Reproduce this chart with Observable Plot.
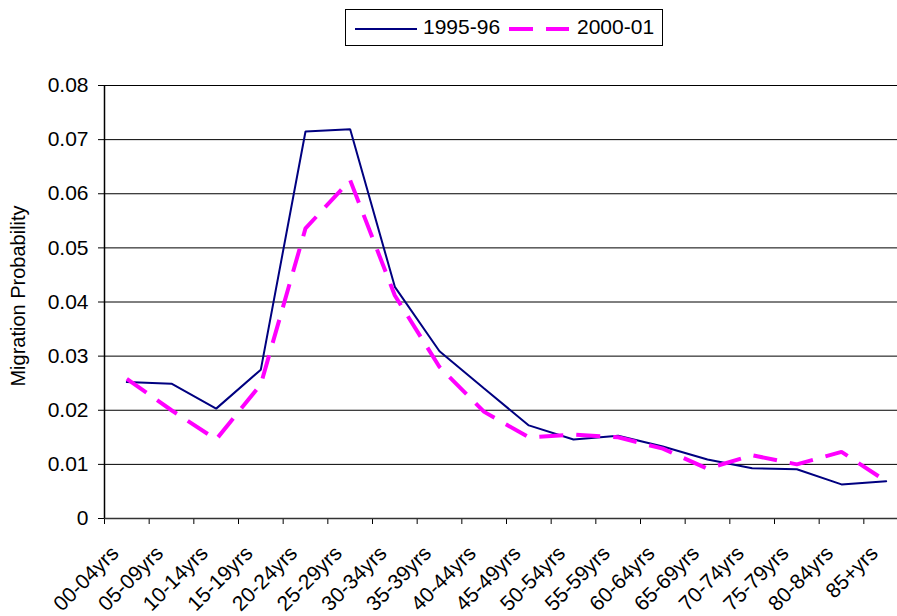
<!DOCTYPE html>
<html>
<head>
<meta charset="utf-8">
<script src="https://cdn.jsdelivr.net/npm/d3@7"></script>
<script src="https://cdn.jsdelivr.net/npm/@observablehq/plot@0.6"></script>
<style>
  html, body { margin: 0; padding: 0; background: white; overflow: hidden; }
  body { width: 897px; height: 616px; position: relative; font-family: "Liberation Sans", Arial, sans-serif; }
  #chart { position: absolute; left: 0; top: 0; width: 897px; height: 616px; overflow: hidden; }
  #legend { position: absolute; left: 345px; top: 9px; width: 316px; height: 35px; border: 1px solid #000; background: white; }
  #legend svg { display: block; }
</style>
</head>
<body>
<div id="chart"></div>
<div id="legend"></div>
<script>
const ageGroups = ["00-04yrs","05-09yrs","10-14yrs","15-19yrs","20-24yrs","25-29yrs","30-34yrs","35-39yrs","40-44yrs","45-49yrs","50-54yrs","55-59yrs","60-64yrs","65-69yrs","70-74yrs","75-79yrs","80-84yrs","85+yrs"];
const prob1995 = [0.0252, 0.0249, 0.0203, 0.0275, 0.0715, 0.0719, 0.0428, 0.0309, 0.0240, 0.0172, 0.0146, 0.0153, 0.0133, 0.0109, 0.0093, 0.0091, 0.0063, 0.0069];
const prob2000 = [0.0258, 0.0200, 0.0146, 0.0248, 0.0536, 0.0625, 0.0412, 0.0280, 0.0197, 0.0150, 0.0155, 0.0150, 0.0129, 0.0092, 0.0117, 0.0100, 0.0123, 0.0069];
const seriesNames = ["1995-96", "2000-01"];
const yTicks = [0, 0.01, 0.02, 0.03, 0.04, 0.05, 0.06, 0.07, 0.08];
const yLabel = "Migration Probability";

const rows1995 = ageGroups.map((g, i) => ({age: g, i: i + 0.5, v: prob1995[i]}));
const rows2000 = ageGroups.map((g, i) => ({age: g, i: i + 0.5, v: prob2000[i]}));
const labelRows = ageGroups.map((g, i) => ({age: g, i: i + 0.5, z: 0}));

const chart = Plot.plot({
  width: 897,
  height: 616,
  marginLeft: 104,
  marginTop: 85,
  marginBottom: 98,
  marginRight: 0,
  style: {fontFamily: "'Liberation Sans', Arial, sans-serif", fontSize: "21px", background: "white", color: "black", overflow: "hidden"},
  x: {domain: [0, 18], range: [104, 908], ticks: d3.range(18), tickFormat: () => "", tickSize: 6, label: null},
  y: {domain: [0, 0.08], ticks: yTicks, tickFormat: d => d === 0 ? "0" : d.toFixed(2), tickSize: 6, tickPadding: 10, label: null},
  marks: [
    Plot.ruleY(yTicks.filter(d => d > 0), {stroke: "#000", strokeWidth: 1}),
    Plot.ruleY([0], {stroke: "#333", strokeWidth: 1.5}),
    Plot.ruleX([0], {y1: 0, y2: 0.08, stroke: "#000", strokeWidth: 1.5}),
    Plot.line(rows1995, {x: "i", y: "v", stroke: "#000080", strokeWidth: 2, strokeLinejoin: "miter"}),
    Plot.line(rows2000, {x: "i", y: "v", stroke: "#FF00FF", strokeWidth: 4, strokeDasharray: "24,13", strokeLinecap: "butt", strokeLinejoin: "miter"}),
    Plot.text(labelRows, {x: "i", y: "z", text: "age", rotate: -45, textAnchor: "end", lineAnchor: "bottom", dx: -7, dy: 36, fontSize: 21, fill: "#000"}),
    Plot.text([yLabel], {frameAnchor: "left", text: d => d, rotate: -90, textAnchor: "middle", lineAnchor: "bottom", dx: -80, dy: -6, fontSize: 20, fill: "#000"})
  ]
});
document.getElementById("chart").appendChild(chart);

// Legend
const leg = d3.select("#legend").append("svg").attr("width", 316).attr("height", 35)
  .style("font-family", "'Liberation Sans', Arial, sans-serif").style("font-size", "21px");
leg.append("line").attr("x1", 9).attr("x2", 71).attr("y1", 19).attr("y2", 19).attr("stroke", "#000080").attr("stroke-width", 2);
leg.append("text").attr("x", 77).attr("y", 24).text(seriesNames[0]);
leg.append("line").attr("x1", 163).attr("x2", 223).attr("y1", 19).attr("y2", 19).attr("stroke", "#FF00FF").attr("stroke-width", 4).attr("stroke-dasharray", "24,13");
leg.append("text").attr("x", 231).attr("y", 24).text(seriesNames[1]);
</script>
</body>
</html>
